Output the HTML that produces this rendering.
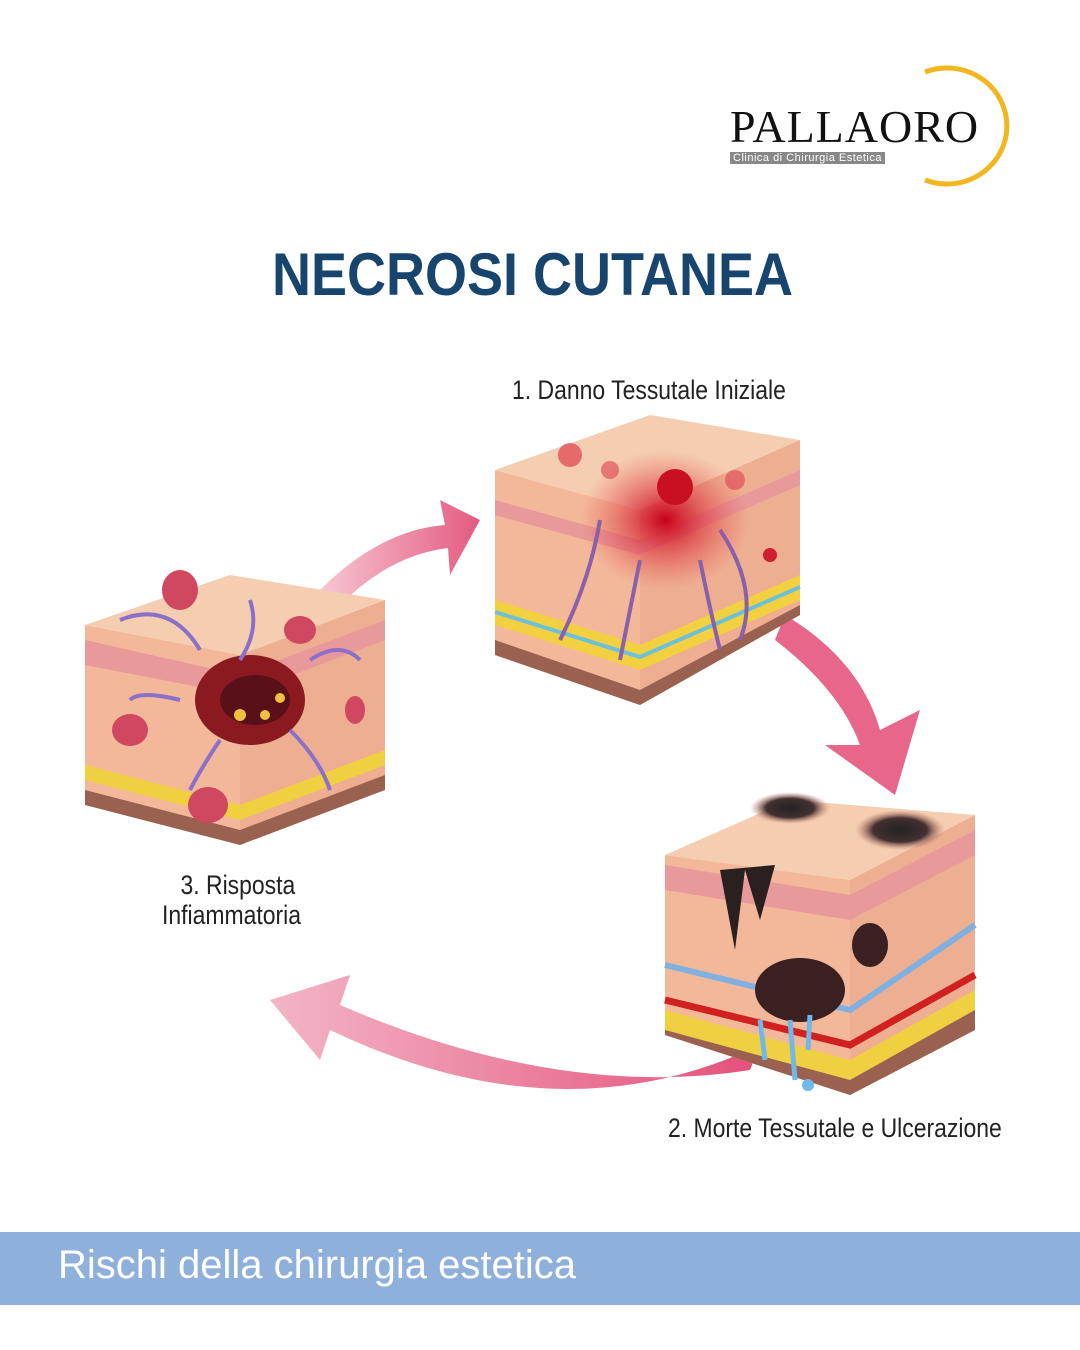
<!DOCTYPE html>
<html><head><meta charset="utf-8"><style>
body{margin:0;width:1080px;height:1350px;background:#fff;position:relative;overflow:hidden;font-family:"Liberation Sans",sans-serif}
.t{position:absolute;white-space:nowrap}
</style></head><body>
<svg width="1080" height="1350" style="position:absolute;left:0;top:0">
<defs>
<linearGradient id="ar" x1="0" x2="1"><stop offset="0" stop-color="#f7c6d2"/><stop offset="1" stop-color="#e45a80"/></linearGradient>
<linearGradient id="ar2" x1="1" x2="0"><stop offset="0" stop-color="#e4507a"/><stop offset="1" stop-color="#f3b5c6"/></linearGradient>
<radialGradient id="red"><stop offset="0" stop-color="#c8001a"/><stop offset="1" stop-color="#e85050" stop-opacity="0"/></radialGradient>
<radialGradient id="blk"><stop offset="0" stop-color="#222"/><stop offset="0.6" stop-color="#443030"/><stop offset="1" stop-color="#c08070" stop-opacity="0"/></radialGradient>
</defs>
<!-- logo ring -->
<path d="M925 72 A60 58 0 1 1 925 180" fill="none" stroke="#f2b620" stroke-width="5"/>
<!-- arrows -->
<path d="M320 590 Q380 530 445 525 L440 500 L480 520 L450 575 L448 548 Q390 555 340 605Z" fill="url(#ar)"/>
<path d="M785 615 Q860 660 880 730 L920 710 L895 795 L825 745 L860 745 Q840 690 775 640Z" fill="#e8668a"/>
<path d="M760 1045 Q560 1140 330 1030 L320 1060 L270 1000 L350 975 L340 1005 Q560 1100 750 1070Z" fill="url(#ar2)"/>
<!-- cube1 -->
<polygon points="495,470 650,415 800,440 640,510" fill="#f5cdb0"/>
<polygon points="495,470 640,510 640,705 495,655" fill="#f3b89a"/>
<polygon points="640,510 800,440 800,615 640,705" fill="#eeae92"/>
<polygon points="495,500 640,540 800,470 800,485 640,555 495,515" fill="#e89a9a"/>
<polygon points="495,600 640,645 800,575 800,600 640,670 495,625" fill="#f3d040"/>
<polyline points="495,612 640,657 800,587" fill="none" stroke="#6cc0d8" stroke-width="4"/>
<polygon points="495,640 640,690 800,605 800,615 640,705 495,655" fill="#9a6050"/>
<ellipse cx="665" cy="520" rx="85" ry="70" fill="url(#red)"/>
<circle cx="675" cy="487" r="18" fill="#c81020"/>
<circle cx="570" cy="455" r="12" fill="#e04050" opacity=".7"/><circle cx="610" cy="470" r="9" fill="#e04050" opacity=".6"/>
<circle cx="735" cy="480" r="10" fill="#e04050" opacity=".6"/><circle cx="770" cy="555" r="7" fill="#d02030"/>
<path d="M600 520 Q590 580 560 640 M640 560 Q630 610 620 660 M700 560 Q710 610 720 650 M720 530 Q760 590 740 640" stroke="#8a60a8" stroke-width="4" fill="none"/>
<!-- cube3 -->
<polygon points="85,625 230,575 385,600 240,655" fill="#f5cdb0"/>
<polygon points="85,625 240,655 240,840 85,800" fill="#f3b89a"/>
<polygon points="240,655 385,600 385,790 240,840" fill="#eeae92"/>
<polygon points="85,640 240,675 385,620 385,640 240,695 85,665" fill="#e89a9a"/>
<polygon points="85,765 240,805 385,750 385,765 240,820 85,780" fill="#f0d040"/>
<polygon points="85,790 240,830 385,775 385,790 240,845 85,805" fill="#9a6050"/>
<ellipse cx="250" cy="700" rx="55" ry="45" fill="#8a1a20"/>
<ellipse cx="255" cy="700" rx="35" ry="25" fill="#5a1018"/>
<g fill="#f0c040"><circle cx="240" cy="715" r="6"/><circle cx="265" cy="715" r="5"/><circle cx="280" cy="698" r="5"/></g>
<g fill="#d04860"><ellipse cx="180" cy="590" rx="18" ry="20"/><ellipse cx="300" cy="630" rx="16" ry="14"/><ellipse cx="130" cy="730" rx="18" ry="16"/><ellipse cx="208" cy="805" rx="20" ry="18"/><ellipse cx="355" cy="710" rx="10" ry="14"/></g>
<path d="M120 620 Q170 600 200 650 M250 600 Q260 630 240 660 M310 660 Q340 640 360 660 M180 700 Q140 690 130 700 M290 730 Q320 760 330 790 M220 740 Q200 770 190 790" stroke="#8a70c8" stroke-width="4" fill="none"/>
<!-- cube2 -->
<polygon points="665,855 790,800 975,815 850,880" fill="#f5cdb0"/>
<polygon points="665,855 850,880 850,1095 665,1035" fill="#f3b89a"/>
<polygon points="850,880 975,815 975,1030 850,1095" fill="#eeae92"/>
<polygon points="665,865 850,895 975,830 975,855 850,920 665,890" fill="#e89a9a"/>
<polygon points="665,1010 850,1060 975,990 975,1010 850,1080 665,1030" fill="#f0d040"/>
<polyline points="665,1000 850,1045 975,975" fill="none" stroke="#d02020" stroke-width="7"/>
<polyline points="665,965 850,1010 975,925" fill="none" stroke="#80b0e0" stroke-width="6"/>
<polygon points="665,1030 850,1080 975,1010 975,1030 850,1095 665,1035" fill="#9a6050"/>
<ellipse cx="790" cy="808" rx="40" ry="16" fill="url(#blk)"/><ellipse cx="900" cy="830" rx="45" ry="20" fill="url(#blk)"/>
<ellipse cx="800" cy="990" rx="45" ry="32" fill="#3a2020"/><ellipse cx="870" cy="945" rx="18" ry="22" fill="#3a2020"/>
<path d="M720 870 L735 950 L745 870 L760 920 L775 865Z" fill="#2a2020"/>
<path d="M760 1020 L765 1060 M790 1020 L795 1080 M810 1015 L808 1050" stroke="#70b8e8" stroke-width="5"/>
<circle cx="808" cy="1085" r="6" fill="#70b8e8"/>
<!-- band -->
<rect x="0" y="1232" width="1080" height="73" fill="#8fb0da"/>
</svg>
<div class="t" style="left:730px;top:100px;font-family:'Liberation Serif',serif;font-size:46px;color:#111;letter-spacing:1px">PALLAORO</div>
<div class="t" style="left:730px;top:152px;background:#888;color:#fff;font-size:11px;padding:0 3px;letter-spacing:.5px">Clinica di Chirurgia Estetica</div>
<div class="t" style="left:272px;top:240px;font-size:60px;font-weight:bold;color:#17456e;transform:scaleX(.9);transform-origin:left">NECROSI CUTANEA</div>
<div class="t" style="left:512px;top:375px;font-size:27px;color:#222;transform:scaleX(.85);transform-origin:left">1. Danno Tessutale Iniziale</div>
<div class="t" style="left:162px;top:870px;font-size:27px;color:#222;text-align:center;line-height:30px;transform:scaleX(.85);transform-origin:left">&nbsp;&nbsp;3. Risposta<br>Infiammatoria</div>
<div class="t" style="left:668px;top:1113px;font-size:27px;color:#222;transform:scaleX(.85);transform-origin:left">2. Morte Tessutale e Ulcerazione</div>
<div class="t" style="left:58px;top:1243px;font-size:40px;color:#fff">Rischi della chirurgia estetica</div>
</body></html>
